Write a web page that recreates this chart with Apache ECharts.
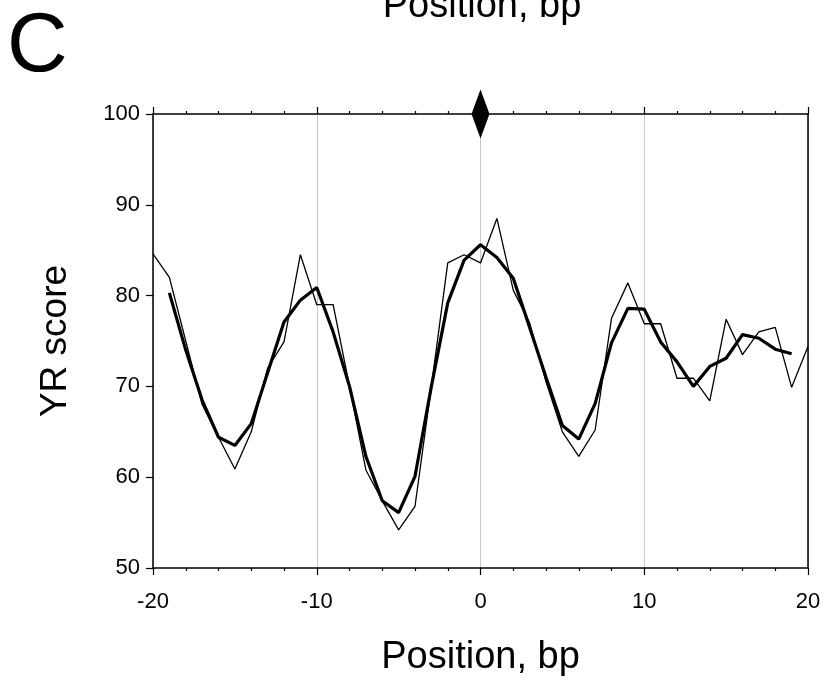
<!DOCTYPE html>
<html>
<head>
<meta charset="utf-8">
<script src="https://cdn.jsdelivr.net/npm/echarts@6/dist/echarts.min.js"></script>
<style>html,body{margin:0;padding:0;background:#fff;}#c{width:827px;height:683px;}</style>
</head>
<body>
<div id="c"></div>
<script>
const thinX = [-20,-19,-18,-17,-16,-15,-14,-13,-12,-11,-10,-9,-8,-7,-6,-5,-4,-3,-2,-1,0,1,2,3,4,5,6,7,8,9,10,11,12,13,14,15,16,17,18,19,20];
const thinY = [84.6,82.0,75.0,68.0,64.4,60.9,65.0,72.0,74.9,84.5,79.0,79.0,70.0,60.8,57.4,54.2,56.8,70.0,83.6,84.5,83.6,88.5,80.6,77.0,70.5,65.0,62.3,65.2,77.5,81.4,76.9,76.9,70.9,70.9,68.4,77.4,73.5,76.0,76.5,69.9,74.4];
const thickX = [-19,-18,-17,-16,-15,-14,-13,-12,-11,-10,-9,-8,-7,-6,-5,-4,-3,-2,-1,0,1,2,3,4,5,6,7,8,9,10,11,12,13,14,15,16,17,18,19];
const thickY = [80.3,74.0,68.5,64.4,63.5,65.9,71.5,77.1,79.5,80.9,76.0,70.0,62.3,57.4,56.1,60.1,70.0,79.2,83.9,85.6,84.2,81.9,76.5,71.0,65.7,64.2,68.1,74.8,78.6,78.5,74.9,72.7,70.0,72.2,73.1,75.7,75.3,74.1,73.6];
const markerX = [0];
const markerY = [100];
const xTicks = [-20,-10,0,10,20];
const yTicks = [50,60,70,80,90,100];
const xTitle = 'Position, bp';
const yTitle = 'YR score';
const panelLabel = 'C';

const FONT = '"Liberation Sans", Arial, sans-serif';
const zip = (xs, ys) => xs.map((x, i) => [x, ys[i]]);

const chart = echarts.init(document.getElementById('c'), null, {renderer: 'canvas'});
const axisLine = {show: true, onZero: false, lineStyle: {color: '#000', width: 1.5}};
chart.setOption({
  animation: false,
  backgroundColor: '#fff',
  grid: {left: 153, right: 19, top: 114, bottom: 115, containLabel: false},
  graphic: [
    {type: 'text', left: 7, top: 6, style: {text: panelLabel, font: '84px ' + FONT, fill: '#000'}},
    {type: 'text', x: 482, y: 7, style: {text: xTitle, font: '38px ' + FONT, fill: '#000', textAlign: 'center', textVerticalAlign: 'middle'}}
  ],
  xAxis: [
    {type: 'value', position: 'bottom', min: xTicks[0], max: xTicks[xTicks.length-1], interval: 10,
     axisLine: axisLine,
     axisTick: {show: true, inside: false, length: 7, lineStyle: {color: '#000', width: 1.2}},
     minorTick: {show: true, splitNumber: 5, length: 3, lineStyle: {color: '#000', width: 1.2}},
     axisLabel: {show: true, fontSize: 22, fontFamily: FONT, color: '#000', margin: 23},
     splitLine: {show: true, lineStyle: {color: '#c8c8c8', width: 1}},
     name: xTitle, nameLocation: 'middle', nameGap: 71,
     nameTextStyle: {fontSize: 38, fontFamily: FONT, color: '#000'}},
    {type: 'value', position: 'top', min: xTicks[0], max: xTicks[xTicks.length-1], interval: 10,
     axisLine: axisLine,
     axisTick: {show: true, inside: false, length: 7, lineStyle: {color: '#000', width: 1.2}},
     minorTick: {show: true, splitNumber: 5, length: 3, lineStyle: {color: '#000', width: 1.2}},
     axisLabel: {show: false}, splitLine: {show: false}}
  ],
  yAxis: [
    {type: 'value', position: 'left', min: yTicks[0], max: yTicks[yTicks.length-1], interval: 10,
     axisLine: axisLine,
     axisTick: {show: true, inside: false, length: 7, lineStyle: {color: '#000', width: 1.2}},
     axisLabel: {show: true, fontSize: 22, fontFamily: FONT, color: '#000', margin: 13},
     splitLine: {show: false},
     name: yTitle, nameLocation: 'middle', nameGap: 79,
     nameTextStyle: {fontSize: 37, fontFamily: FONT, color: '#000'}},
    {type: 'value', position: 'right', min: yTicks[0], max: yTicks[yTicks.length-1], interval: 10,
     axisLine: axisLine, axisTick: {show: false}, axisLabel: {show: false}, splitLine: {show: false}}
  ],
  series: [
    {type: 'line', data: zip(thinX, thinY), showSymbol: false, symbol: 'none',
     lineStyle: {color: '#000', width: 1.3}, z: 3},
    {type: 'line', data: zip(thickX, thickY), showSymbol: false, symbol: 'none',
     lineStyle: {color: '#000', width: 3.2}, z: 4},
    {type: 'scatter', data: zip(markerX, markerY), symbol: 'diamond', symbolSize: [18, 49],
     clip: false, itemStyle: {color: '#000', opacity: 1}, z: 10, silent: true}
  ]
});
</script>
</body>
</html>
